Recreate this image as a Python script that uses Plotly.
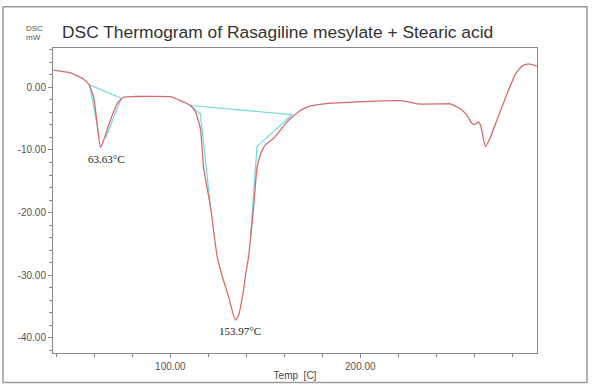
import plotly.graph_objects as go

# DSC curve (temperature in C, heat flow in mW)
temp = [38.4, 47.4, 54.4, 57.0, 59.6, 61.4, 63.2, 64.9, 68.4, 71.9, 75.4, 81.6, 89.5,
        100.0, 105.3, 110.5, 113.2, 115.8, 117.5, 121.1, 124.6, 127.2, 130.5, 134.2,
        135.9, 138.6, 139.5, 141.2, 143.8, 145.6, 147.4, 150.0, 154.4, 161.4, 168.4,
        171.9, 180.7, 201.7, 219.3, 224.6, 229.8, 243.8, 247.4, 252.6, 256.2, 258.8,
        260.5, 262.3, 263.5, 265.8, 267.5, 271.9, 277.2, 281.6, 285.1, 288.6, 292.9]
dsc = [2.77, 2.33, 1.31, 0.52, -1.57, -5.77, -9.6, -8.40, -5.25, -2.63, -1.57, -1.45, -1.42,
       -1.48, -2.11, -2.89, -3.93, -6.56, -12.85, -19.1, -27.0, -30.1, -33.3, -37.2,
       -36.4, -32.2, -30.1, -27.0, -19.1, -12.85, -10.75, -9.18, -8.13, -5.5, -3.68,
       -3.14, -2.63, -2.26, -2.11, -2.26, -2.63, -2.63, -2.63, -3.41, -4.47, -5.77,
       -5.88, -5.5, -6.29, -9.43, -8.65, -5.25, -1.05, 2.09, 3.40, 3.77, 3.40]

# Baseline / tangent construction lines
base1_t = [57.5, 74.1]
base1_v = [0.41, -1.73]
tan1l_t = [57.5, 61.4, 62.4]
tan1l_v = [0.41, -5.9, -8.2]
tan1r_t = [74.1, 65.8]
tan1r_v = [-1.73, -8.13]
base2_t = [110.5, 164.1]
base2_v = [-2.89, -4.36]
tan2l_t = [110.5, 115.8, 121.1]
tan2l_v = [-2.89, -4.2, -19.1]
tan2r_t = [164.1, 145.6, 142.1]
tan2r_v = [-4.36, -9.43, -24.3]

peak_labels = ["63.63°C", "153.97°C"]
peak_label_t = [66.3, 136.8]
peak_label_v = [-11.5, -38.9]

x_ticks = [100, 200]
x_ticktext = ["100.00", "200.00"]
y_ticks = [0, -10, -20, -30, -40]
y_ticktext = ["0.00", "-10.00", "-20.00", "-30.00", "-40.00"]

red = "#d46c6c"
cyan = "#72d9d9"

fig = go.Figure()
for tx, vy in [(base1_t, base1_v), (tan1l_t, tan1l_v), (tan1r_t, tan1r_v),
               (base2_t, base2_v), (tan2l_t, tan2l_v), (tan2r_t, tan2r_v)]:
    fig.add_trace(go.Scatter(x=tx, y=vy, mode="lines",
                             line=dict(color=cyan, width=1.2), hoverinfo="skip"))
fig.add_trace(go.Scatter(x=temp, y=dsc, mode="lines",
                         line=dict(color=red, width=1.3, shape="spline", smoothing=0.5)))

for txt, tx, vy in zip(peak_labels, peak_label_t, peak_label_v):
    fig.add_annotation(x=tx, y=vy, text=txt, showarrow=False,
                       font=dict(family="Liberation Serif", size=11, color="#222"))

fig.add_annotation(xref="paper", yref="paper", x=-0.0372, y=1.0855, text="DSC",
                   showarrow=False, xanchor="center",
                   font=dict(family="Liberation Sans", size=8, color="#555"))
fig.add_annotation(xref="paper", yref="paper", x=-0.04, y=1.0565, text="mW",
                   showarrow=False, xanchor="center",
                   font=dict(family="Liberation Sans", size=8, color="#555"))

fig.add_shape(type="rect", xref="paper", yref="paper", x0=-0.1033, x1=1.1033,
              y0=-0.0968, y1=1.1355, line=dict(color="#9a9a9a", width=1.5), layer="below")

fig.update_layout(
    width=595, height=391,
    margin=dict(l=53, r=58, t=48, b=33),
    paper_bgcolor="white", plot_bgcolor="white",
    showlegend=False,
    title=dict(text="DSC Thermogram of Rasagiline mesylate + Stearic acid",
               x=62 / 595, xanchor="left", y=1 - 32 / 391, yanchor="middle",
               font=dict(family="Liberation Sans", size=17.4, color="#333")),
    font=dict(family="Liberation Sans", size=10, color="#555"),
)
fig.update_xaxes(range=[38.2, 293.0], tickvals=x_ticks, ticktext=x_ticktext,
                 ticks="outside", ticklen=4, tickcolor="#888", showgrid=False,
                 zeroline=False, showline=True, mirror=True, linecolor="#888", linewidth=1,
                 minor=dict(dtick=20, tick0=0, ticks="outside", ticklen=3, tickcolor="#888"),
                 title=dict(text="Temp  [C]", standoff=0, font=dict(size=10, color="#444")),
                 tickfont=dict(size=10, color="#555"))
fig.update_yaxes(range=[-42.45, 6.3], tickvals=y_ticks, ticktext=y_ticktext,
                 ticks="outside", ticklen=4, tickcolor="#888", showgrid=False,
                 zeroline=False, showline=True, mirror=True, linecolor="#888", linewidth=1,
                 minor=dict(dtick=2, tick0=0, ticks="outside", ticklen=3, tickcolor="#888"),
                 tickfont=dict(size=10, color="#555"))

fig.write_html("out.html", config={"displayModeBar": False},
               post_script="document.body.style.margin='0px';document.body.style.padding='0px';")
